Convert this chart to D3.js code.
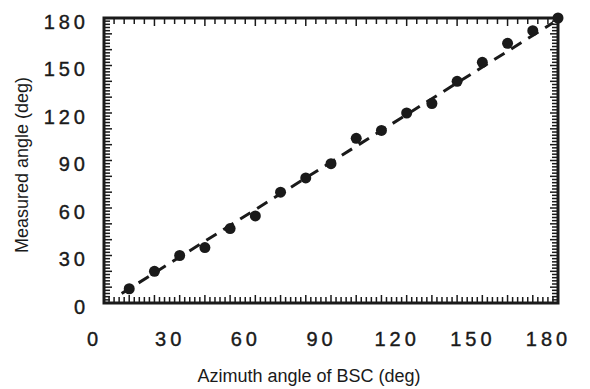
<!DOCTYPE html>
<html>
<head>
<meta charset="utf-8">
<script src="https://cdn.jsdelivr.net/npm/d3@7"></script>
<style>
  html, body { margin: 0; padding: 0; background: #fff; }
  svg text { font-family: "Liberation Sans", Arial, sans-serif; fill: #1a1a1a; }
</style>
</head>
<body>
<div id="chart"></div>
<script>
// data
const azimuth = [10, 20, 30, 40, 50, 60, 70, 80, 90, 100, 110, 120, 130, 140, 150, 160, 170, 180];
const measured = [9, 20, 30, 35, 47, 55, 70, 79, 88, 104, 109, 120, 126, 140, 152, 164, 172, 180];
const fitLine = [[7, 6], [178, 177]];
const tickLabels = [0, 30, 60, 90, 120, 150, 180];
const minorSide = d3.range(0, 181, 2);
const minorTop = d3.range(0, 181, 4);

const W = 590, H = 389;
const margin = { left: 104, right: 32, top: 18, bottom: 86 };

const svg = d3.select("#chart")
  .append("svg")
  .attr("width", W)
  .attr("height", H);

const x = d3.scaleLinear().domain([0, 180]).range([margin.left, W - margin.right]);
const y = d3.scaleLinear().domain([0, 180]).range([H - margin.bottom, margin.top]);

const ink = "#1a1a1a";
const tickLen = d => (d % 10 === 0 ? 8 : 6);

// minor ticks, all pointing inward
function tickRow(cls, data, x1, y1, x2, y2) {
  svg.selectAll("." + cls)
    .data(data)
    .enter()
    .append("line")
    .attr("class", cls)
    .attr("x1", x1).attr("y1", y1)
    .attr("x2", x2).attr("y2", y2)
    .attr("stroke", ink)
    .attr("stroke-width", 1.5);
}

tickRow("tb", minorSide, d => x(d), y(0), d => x(d), d => y(0) - tickLen(d));
tickRow("tt", minorTop, d => x(d), y(180), d => x(d), d => y(180) + tickLen(d));
tickRow("tl", minorSide, x(0), d => y(d), d => x(0) + tickLen(d), d => y(d));
tickRow("tr", minorSide, x(180), d => y(d), d => x(180) - tickLen(d), d => y(d));

// frame
svg.append("rect")
  .attr("x", x(0))
  .attr("y", y(180))
  .attr("width", x(180) - x(0))
  .attr("height", y(0) - y(180))
  .attr("fill", "none")
  .attr("stroke", ink)
  .attr("stroke-width", 3);

// tick labels
const xLab = svg.append("g")
  .attr("transform", `translate(-10,${y(0) + 26})`)
  .call(d3.axisBottom(x).tickValues(tickLabels).tickSize(0).tickFormat(d => String(d)));
xLab.select(".domain").remove();
xLab.selectAll("text")
  .attr("font-size", 20)
  .attr("letter-spacing", 4)
  .attr("fill", ink)
  .attr("stroke", ink)
  .attr("stroke-width", 0.4);

const yLab = svg.append("g")
  .attr("transform", `translate(${x(0) - 12},4)`)
  .call(d3.axisLeft(y).tickValues(tickLabels).tickSize(0).tickFormat(d => String(d)));
yLab.select(".domain").remove();
yLab.selectAll("text")
  .attr("font-size", 20)
  .attr("letter-spacing", 4)
  .attr("fill", ink)
  .attr("stroke", ink)
  .attr("stroke-width", 0.4);

// fitted dashed line
svg.append("path")
  .datum(fitLine)
  .attr("d", d3.line().x(d => x(d[0])).y(d => y(d[1])))
  .attr("fill", "none")
  .attr("stroke", ink)
  .attr("stroke-width", 3)
  .attr("stroke-dasharray", "12,8");

// measured points
svg.selectAll(".pt")
  .data(azimuth)
  .enter()
  .append("circle")
  .attr("class", "pt")
  .attr("cx", d => x(d))
  .attr("cy", (d, i) => y(measured[i]))
  .attr("r", 5.5)
  .attr("fill", ink);

// axis titles
svg.append("text")
  .attr("x", 309)
  .attr("y", 382)
  .attr("text-anchor", "middle")
  .attr("font-size", 18)
  .text("Azimuth angle of BSC (deg)");

svg.append("text")
  .attr("transform", "translate(28,165) rotate(-90)")
  .attr("text-anchor", "middle")
  .attr("font-size", 18)
  .text("Measured angle (deg)");
</script>
</body>
</html>
